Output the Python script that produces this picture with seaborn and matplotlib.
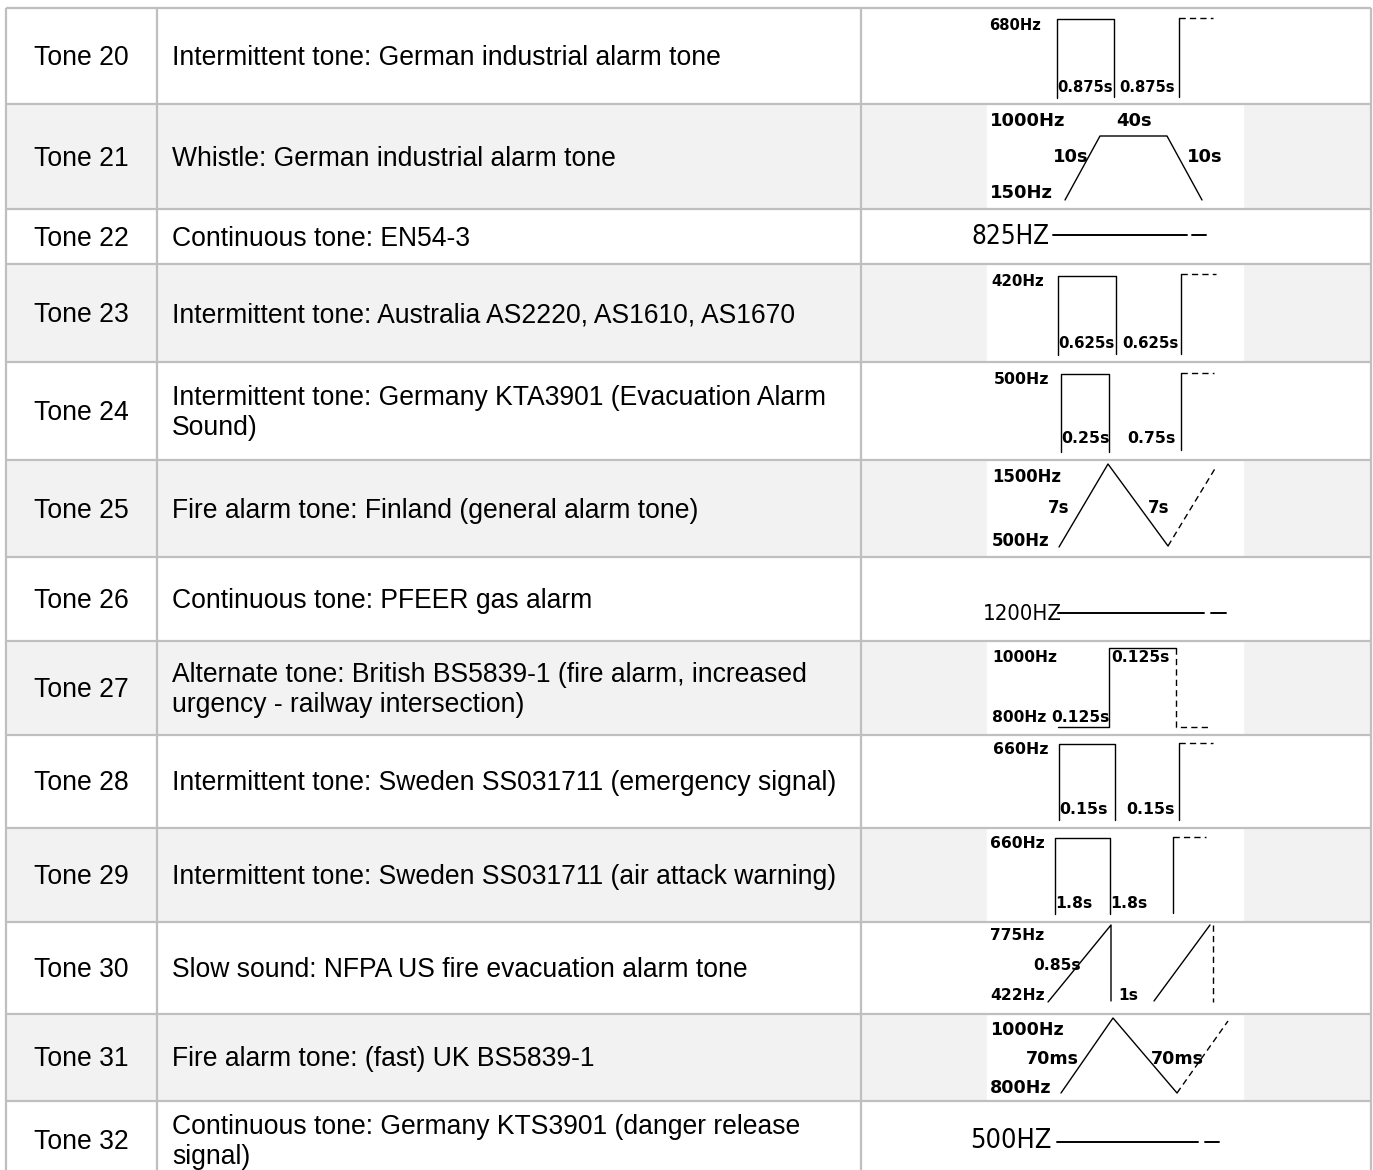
import matplotlib
matplotlib.use("Agg")
import matplotlib.pyplot as plt
from matplotlib import font_manager as fm
import seaborn as sns
import pandas as pd

# ---------------- table content ----------------
tone_ids = ["Tone 20", "Tone 21", "Tone 22", "Tone 23", "Tone 24", "Tone 25", "Tone 26",
            "Tone 27", "Tone 28", "Tone 29", "Tone 30", "Tone 31", "Tone 32"]
descriptions = [
    "Intermittent tone: German industrial alarm tone",
    "Whistle: German industrial alarm tone",
    "Continuous tone: EN54-3",
    "Intermittent tone: Australia AS2220, AS1610, AS1670",
    "Intermittent tone: Germany KTA3901 (Evacuation Alarm\nSound)",
    "Fire alarm tone: Finland (general alarm tone)",
    "Continuous tone: PFEER gas alarm",
    "Alternate tone: British BS5839-1 (fire alarm, increased\nurgency - railway intersection)",
    "Intermittent tone: Sweden SS031711 (emergency signal)",
    "Intermittent tone: Sweden SS031711 (air attack warning)",
    "Slow sound: NFPA US fire evacuation alarm tone",
    "Fire alarm tone: (fast) UK BS5839-1",
    "Continuous tone: Germany KTS3901 (danger release\nsignal)",
]

# ---------------- waveform sketches (schematic units inside each diagram) ----------------
# Tone 20 - intermittent 680 Hz
t20_solid = [([70, 70, 127, 127], [90, 11, 11, 89]), ([192, 192], [89, 10])]
t20_dash = [([192, 226], [10, 10])]
t20_labels = [("680Hz", 2, 17), ("0.875s", 70, 79), ("0.875s", 132, 79)]
# Tone 21 - whistle
t21_solid = [([78, 113, 180, 215], [96, 32, 32, 96])]
t21_dash = []
t21_labels = [("1000Hz", 3, 17), ("40s", 129, 17), ("10s", 66, 53), ("10s", 200, 53), ("150Hz", 3, 89)]
# Tone 22 - continuous 825 Hz
t22_cont = ("825HZ", 62, 28, [66, 200], [205, 219], 26)
# Tone 23 - intermittent 420 Hz
t23_solid = [([71, 71, 129, 129], [91, 12, 12, 90]), ([194, 194], [90, 10])]
t23_dash = [([194, 229], [10, 10])]
t23_labels = [("420Hz", 4, 17), ("0.625s", 71, 79), ("0.625s", 135, 79)]
# Tone 24 - intermittent 500 Hz
t24_solid = [([74, 74, 122, 122], [90, 12, 12, 90]), ([194, 194], [88, 11])]
t24_dash = [([194, 227], [11, 11])]
t24_labels = [("500Hz", 7, 18), ("0.25s", 74, 77), ("0.75s", 140, 77)]
# Tone 25 - Finland sweep
t25_solid = [([72, 121, 181], [87, 4, 86])]
t25_dash = [([181, 229], [86, 7])]
t25_labels = [("1500Hz", 5, 17), ("500Hz", 5, 81), ("7s", 61, 48), ("7s", 161, 48)]
# Tone 26 - continuous 1200 Hz
t26_cont = ("1200HZ", 75, 57, [71, 217], [224, 239], 56)
# Tone 27 - alternate
t27_solid = [([71, 122, 122, 189], [86, 86, 7, 7])]
t27_dash = [([189, 189, 223], [7, 86, 86])]
t27_labels = [("1000Hz", 5, 16), ("0.125s", 124, 16), ("800Hz", 5, 77), ("0.125s", 64, 77)]
# Tone 28 - intermittent 660 Hz (0.15 s)
t28_solid = [([72, 72, 128, 128], [85, 9, 9, 85]), ([192, 192], [85, 8])]
t28_dash = [([192, 226], [8, 8])]
t28_labels = [("660Hz", 6, 14), ("0.15s", 72, 75), ("0.15s", 139, 75)]
# Tone 29 - intermittent 660 Hz (1.8 s)
t29_solid = [([68, 68, 123, 123], [86, 10, 10, 86]), ([186, 186], [85, 9])]
t29_dash = [([186, 219], [9, 9])]
t29_labels = [("660Hz", 3, 15), ("1.8s", 68, 76), ("1.8s", 123, 76)]
# Tone 30 - slow whoop
t30_solid = [([61, 124, 124], [80, 3, 79]), ([167, 223], [79, 3])]
t30_dash = [([226, 226], [3, 80])]
t30_labels = [("775Hz", 3, 13), ("0.85s", 46, 43), ("422Hz", 3, 73), ("1s", 131, 73)]
# Tone 31 - fast sweep
t31_solid = [([74, 126, 190], [79, 4, 79])]
t31_dash = [([190, 241], [79, 7])]
t31_labels = [("1000Hz", 3, 16), ("70ms", 39, 45), ("800Hz", 3, 74), ("70ms", 164, 45)]
# Tone 32 - continuous 500 Hz
t32_cont = ("500HZ", 65, 40, [70, 211], [218, 232], 41)

# ---------------- layout / style ----------------
W, H = 1373, 1170
row_edges = [8, 104, 209, 264, 362, 460, 557, 641, 735, 828, 922, 1014, 1101, 1179]
col_edges = [6, 157, 861, 1371]
img_left, img_width = 987, 256
grid_color = "#BFBFBF"
shade_color = "#F2F2F2"
px = 0.72  # px -> pt at 100 dpi


def find_condensed():
    """Look for an installed condensed sans face (regular/medium weight)."""
    prefer = ["Noto Sans", "Open Sans", "Roboto", "DejaVu Sans", "Liberation Sans Narrow",
              "Lato", "Inter"]
    cands = []
    for f in fm.fontManager.ttflist:
        st = str(f.stretch).lower()
        is_cond = st in ("condensed", "semi-condensed", "extra-condensed") or \
            (isinstance(f.stretch, (int, float)) and f.stretch < 500) or \
            "narrow" in f.name.lower() or "condensed" in f.name.lower()
        if not is_cond or f.style != "normal":
            continue
        w = f.weight if isinstance(f.weight, int) else 400
        if w < 400 or w > 600:
            continue
        rank = prefer.index(f.name) if f.name in prefer else len(prefer)
        cands.append((rank, abs(w - 500), f.fname))
    if not cands:
        return None
    cands.sort()
    return cands[0][2]


cond_path = find_condensed()

sns.set_theme(style="white")
plt.rcParams["font.family"] = ["Liberation Sans", "DejaVu Sans"]

fig = plt.figure(figsize=(W / 100, H / 100), dpi=100)
fig.patch.set_facecolor("white")
ax = fig.add_axes([0, 0, 1, 1])
ax.set_xlim(0, W)
ax.set_ylim(H, 0)
ax.axis("off")

tops = row_edges[:-1]
bots = row_edges[1:]
centers = [(a + b) / 2 for a, b in zip(tops, bots)]
heights = [b - a for a, b in zip(tops, bots)]
shaded = [i % 2 == 1 for i in range(len(tone_ids))]

# row backgrounds
ax.barh(y=centers, width=col_edges[-1] - col_edges[0], left=col_edges[0], height=heights,
        color=[shade_color if s else "white" for s in shaded], zorder=0)
# white picture backgrounds in shaded rows
ax.barh(y=[c for c, s in zip(centers, shaded) if s], width=img_width, left=img_left,
        height=[h for h, s in zip(heights, shaded) if s], color="white", zorder=1)

# grid
ax.hlines(tops, col_edges[0], col_edges[-1], color=grid_color, lw=1.6, zorder=3)
ax.vlines(col_edges, row_edges[0], row_edges[-1], color=grid_color, lw=1.6, zorder=3)

# text columns
for c, tid, desc in zip(centers, tone_ids, descriptions):
    ax.text((col_edges[0] + col_edges[1]) / 2, c + 2, tid, ha="center", va="center",
            fontsize=26.5 * px, color="black", family=["Liberation Sans", "DejaVu Sans"])
    ax.text(172, c + 2, desc, ha="left", va="center", fontsize=26.5 * px, color="black",
            linespacing=1.17, family=["Liberation Sans", "DejaVu Sans"])

wave_specs = {
    0: (t20_solid, t20_dash, t20_labels, 14.8),
    1: (t21_solid, t21_dash, t21_labels, 18.0),
    3: (t23_solid, t23_dash, t23_labels, 15.0),
    4: (t24_solid, t24_dash, t24_labels, 15.8),
    5: (t25_solid, t25_dash, t25_labels, 16.5),
    7: (t27_solid, t27_dash, t27_labels, 15.5),
    8: (t28_solid, t28_dash, t28_labels, 15.8),
    9: (t29_solid, t29_dash, t29_labels, 15.6),
    10: (t30_solid, t30_dash, t30_labels, 15.5),
    11: (t31_solid, t31_dash, t31_labels, 17.5),
}
if cond_path:
    cont_specs = {2: (t22_cont, 26), 6: (t26_cont, 22), 12: (t32_cont, 27)}
else:
    cont_specs = {2: (t22_cont, 24), 6: (t26_cont, 21), 12: (t32_cont, 25)}


def diagram_axes(i):
    top, h = tops[i], heights[i]
    dax = fig.add_axes([img_left / W, 1 - (top + h) / H, img_width / W, h / H])
    dax.patch.set_visible(False)
    return dax, h


def seg(dax, xs, ys, lw, dashed=False):
    df = pd.DataFrame({"t": xs, "f": ys})
    kw = dict(linestyle=(0, (4.5, 3))) if dashed else {}
    sns.lineplot(data=df, x="t", y="f", sort=False, estimator=None, ax=dax,
                 color="black", linewidth=lw, clip_on=False, **kw)


for i, (solid, dashed, labels, fpx) in wave_specs.items():
    dax, h = diagram_axes(i)
    for xs, ys in solid:
        seg(dax, xs, ys, 1.0)
    for xs, ys in dashed:
        seg(dax, xs, ys, 1.0, dashed=True)
    for txt, x, y in labels:
        dax.text(x, y, txt, ha="left", va="center", fontsize=fpx * px,
                 fontweight="bold", family=["DejaVu Sans"], color="black")
    dax.set_xlim(0, img_width)
    dax.set_ylim(h, 0)
    dax.axis("off")

for i, (spec, fpx) in cont_specs.items():
    txt, xr, yc, line_x, dash_x, line_y = spec
    dax, h = diagram_axes(i)
    seg(dax, line_x, [line_y, line_y], 1.4)
    seg(dax, dash_x, [line_y, line_y], 1.4)
    if cond_path:
        fp = fm.FontProperties(fname=cond_path, size=fpx * px)
    else:
        fp = fm.FontProperties(family=["Liberation Sans", "DejaVu Sans"], size=fpx * px)
    dax.text(xr, yc, txt, ha="right", va="center", fontproperties=fp, color="black")
    dax.set_xlim(0, img_width)
    dax.set_ylim(h, 0)
    dax.axis("off")

fig.savefig("out.png", dpi=100, facecolor="white")
